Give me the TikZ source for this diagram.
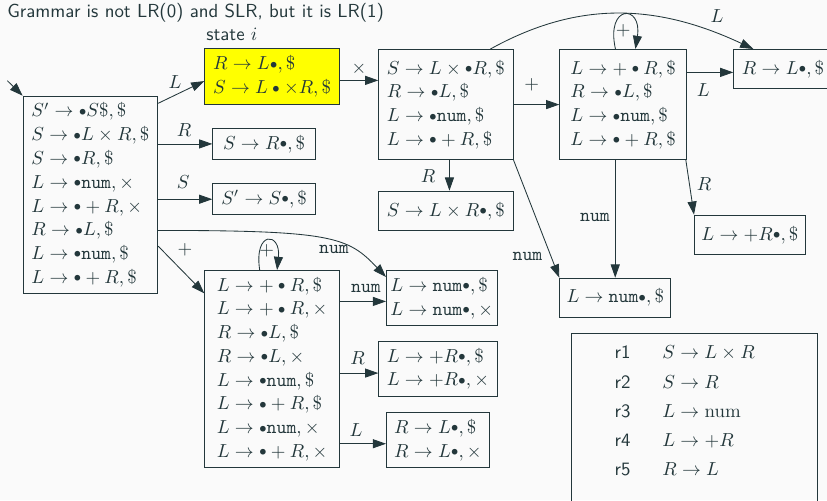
\documentclass[tikz,border=0pt]{standalone}
\usetikzlibrary{arrows.meta,calc}
\definecolor{bg}{HTML}{FAFAFA}
\definecolor{fg}{HTML}{23373B}
\definecolor{ylw}{HTML}{FFFF00}
\newcommand\dt{\mathbin{\vcenter{\hbox{$\scriptstyle\bullet$}}}}
\newcommand\nm{\mathtt{num}}
\tikzset{
  box/.style 2 args={draw=fg, line width=0.45pt, inner sep=0pt, align=left, anchor=north west,
    minimum width=#1*0.53pt, minimum height=#2*0.53pt, font=\fontsize{10}{12.6}\selectfont, text=fg},
  arr/.style={draw=fg, line width=0.45pt, -{Triangle[length=7pt,width=4.8pt]}},
  lbl/.style={inner sep=0pt, text=fg, font=\fontsize{10}{12}\selectfont},
  sflbl/.style={inner sep=0pt, text=fg, font=\sffamily\fontsize{10}{12}\selectfont, anchor=base west},
}
\begin{document}
\begin{tikzpicture}[x=0.53pt, y=-0.53pt]
\path[fill=bg, use as bounding box] (0,0) rectangle (827,500);
\begin{scope}
\clip (0,0) rectangle (827,500);

\node[sflbl] (title) at (7,17.3) {Grammar is not LR(0) and SLR, but it is LR(1)};
\node[sflbl] (statei) at (206,40.7) {state $i$};

% states
\node[box={134.6}{197.6}] (I0) at (22.7,95.7) {$S'\to\dt S\$,\$$\\ $S\to\dt L\times R,\$$\\ $S\to\dt R,\$$\\ $L\to\dt\nm,\times$\\ $L\to\dt+R,\times$\\ $R\to\dt L,\$$\\ $L\to\dt\nm,\$$\\ $L\to\dt+R,\$$};
\node[box={134.7}{55.7}, fill=ylw] (Y) at (204.3,48.3) {$R\to L\dt,\$$\\ $S\to L\dt\times R,\$$};
\node[box={102.7}{31.6}] (sR) at (212.3,127.7) {$S\to R\dt,\$$};
\node[box={102.7}{31}] (sS) at (212.3,183.3) {$S'\to S\dt,\$$};
\node[box={134.4}{110.3}] (I3) at (378.3,49) {$S\to L\times\dt R,\$$\\ $R\to\dt L,\$$\\ $L\to\dt\nm,\$$\\ $L\to\dt+R,\$$};
\node[box={134.4}{39.3}] (sLxR) at (378.3,190.7) {$S\to L\times R\dt,\$$};
\node[box={126.7}{110.3}] (I4) at (559.3,49) {$L\to+\dt R,\$$\\ $R\to\dt L,\$$\\ $L\to\dt\nm,\$$\\ $L\to\dt+R,\$$};
\node[box={98.6}{38.7}] (RL1) at (733.3,49) {$R\to L\dt,\$$};
\node[box={111}{39.3}] (LpR1) at (694,214.7) {$L\to +R\dt,\$$};
\node[box={111}{39}] (Ln1) at (559.3,277.7) {$L\to\nm\dt,\$$};
\node[box={134.7}{197.3}] (Ip) at (204.3,270) {$L\to+\dt R,\$$\\ $L\to+\dt R,\times$\\ $R\to\dt L,\$$\\ $R\to\dt L,\times$\\ $L\to\dt\nm,\$$\\ $L\to\dt+R,\$$\\ $L\to\dt\nm,\times$\\ $L\to\dt+R,\times$};
\node[box={110.7}{55}] (num2) at (386,270) {$L\to\nm\dt,\$$\\ $L\to\nm\dt,\times$};
\node[box={118.4}{54.7}] (pR2) at (378.3,341) {$L\to+R\dt,\$$\\ $L\to+R\dt,\times$};
\node[box={103}{55}] (RL2) at (386,412.3) {$R\to L\dt,\$$\\ $R\to L\dt,\times$};

% rules table
\node[box={245.7}{200}] (tbl) at (571,332.7) {};
\foreach \n/\f/\yy in {1/{S\to L\times R}/358.3, 2/{S\to R}/388.3, 3/{L\to\mathrm{num}}/417.3, 4/{L\to +R}/446.7, 5/{R\to L}/475.3}{
  \node[sflbl] (rl\n) at (614.3,\yy) {r\n};
  \node[lbl, anchor=base west] (rf\n) at (662,\yy) {$\f$};
}

% connectors
\coordinate (start) at (7.3,80.7);
\draw[arr] (start) -- (I0.north west);
\draw[arr] ($(I0.north east)+(0,7.6)$) -- ($(Y.west)+(0,4.5)$) node[lbl] at (175,81.7) {$L$};
\draw[arr] (I0.east |- sR.west) -- (sR.west) node[lbl] at (184,130) {$R$};
\draw[arr] (I0.east |- sS.west) -- (sS.west) node[lbl] at (183.3,182.5) {$S$};
\draw[arr] ($(I0.east)+(0,35.5)$) .. controls +(175,0) and +(-38,-40) .. ($(num2.north west)+(0,7)$) node[lbl] at (334,249) {$\nm$};
\draw[arr] ($(I0.east)+(0,51.2)$) -- ($(Ip.north west)+(0,23.3)$) node[lbl] at (185,250) {$+$};
\draw[arr] ($(Ip.north)+(-12.4,0)$) .. controls +(-6,-40) and +(4,-38) .. ($(Ip.north)+(5,0)$) node[lbl] at (266.7,250.7) {$+$};
\draw[arr] ($(Ip.east |- num2.west)+(0,3.5)$) -- ($(num2.west)+(0,3.5)$) node[lbl] at (366,288.5) {$\nm$};
\draw[arr] ($(Ip.east |- pR2.west)+(0,4.3)$) -- ($(pR2.west)+(0,4.3)$) node[lbl] at (357.5,357.8) {$R$};
\draw[arr] ($(Ip.east |- RL2.west)+(0,3.5)$) -- ($(RL2.west)+(0,3.5)$) node[lbl] at (356,429.7) {$L$};
\draw[arr] ($(Y.east)+(0,3.8)$) -- ($(Y.east -| I3.west)+(0,3.8)$) node[lbl] at (359,69) {$\times$};
\draw[arr] ($(I3.south)+(3.5,0)$) -- ($(sLxR.north)+(3.5,0)$) node[lbl] at (428,176) {$R$};
\draw[arr] (I3.east) -- (I3.east -| I4.west) node[lbl] at (531.7,85) {$+$};
\draw[arr] ($(I3.north)+(44.5,0)$) .. controls +(85,-47) and +(-100,-47) .. ($(RL1.north west)+(20,0)$) node[lbl] at (717,16) {$L$};
\draw[arr] ($(I4.north)+(-7.65,0)$) .. controls +(-10,-45) and +(7,-45) .. ($(I4.north)+(12.35,0)$) node[lbl] at (623.3,31) {$+$};
\draw[arr] ($(I4.east |- RL1.west)+(0,3.6)$) -- ($(RL1.west)+(0,3.6)$) node[lbl] at (703.3,90) {$L$};
\draw[arr] ($(I4.south east)+(-1,0)$) -- (LpR1.north west) node[lbl] at (704,184) {$R$};
\draw[arr] (Ln1.north |- I4.south) -- (Ln1.north) node[lbl] at (595,217.5) {$\nm$};
\draw[arr] (I3.south east) -- (Ln1.north west) node[lbl] at (527.5,256) {$\nm$};
\end{scope}
\end{tikzpicture}
\end{document}
